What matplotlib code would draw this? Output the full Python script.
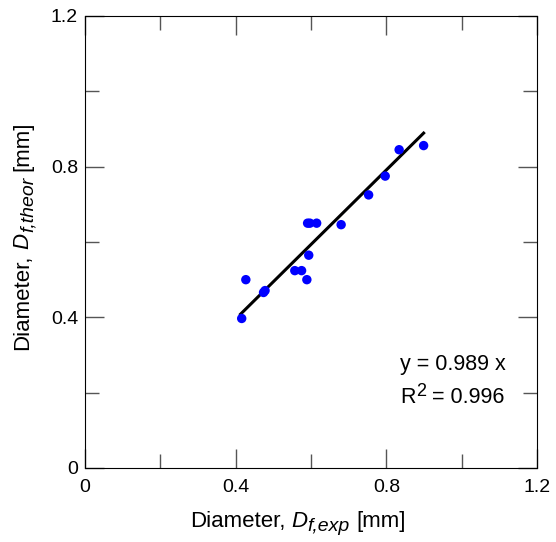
import matplotlib
matplotlib.use("Agg")
import matplotlib.pyplot as plt
from matplotlib.ticker import MultipleLocator

plt.rcParams["font.family"] = ["Liberation Sans", "DejaVu Sans"]

# experimental vs theoretical diameters [mm]
d_exp = [0.416, 0.427, 0.474, 0.478, 0.557, 0.575, 0.589, 0.594, 0.591, 0.597,
         0.615, 0.680, 0.753, 0.797, 0.834, 0.899]
d_theor = [0.397, 0.500, 0.466, 0.471, 0.524, 0.524, 0.500, 0.565, 0.650, 0.650,
           0.650, 0.646, 0.725, 0.775, 0.845, 0.856]
slope = 0.989
r2 = 0.996
fit_x = [0.413, 0.899]

fig = plt.figure(figsize=(5.56, 5.42), dpi=100)
ax = fig.add_axes([85/556, 74/542, 452/556, 452/542])

ax.plot(fit_x, [slope*v for v in fit_x], color="black", lw=2.2, zorder=2)
ax.scatter(d_exp, d_theor, s=46, color="#0000ff", edgecolors="none", zorder=3)

ax.set_xlim(0, 1.2)
ax.set_ylim(0, 1.2)
ax.xaxis.set_major_locator(MultipleLocator(0.4))
ax.yaxis.set_major_locator(MultipleLocator(0.4))
ax.xaxis.set_minor_locator(MultipleLocator(0.2))
ax.yaxis.set_minor_locator(MultipleLocator(0.2))
fmt = lambda v, p: "0" if abs(v) < 1e-9 else f"{v:.1f}"
ax.xaxis.set_major_formatter(fmt)
ax.yaxis.set_major_formatter(fmt)
ax.tick_params(which="both", direction="in", top=True, right=True,
               color="#555555", width=1, labelsize=14)
ax.tick_params(which="major", length=14)
ax.tick_params(which="minor", length=10)
ax.tick_params(axis="x", which="major", pad=8)
ax.tick_params(axis="y", which="major", pad=5)


def label(parts, x0, y0, rot):
    # chain text pieces: (text, style, size, shift)
    prev = None
    for txt, style, size, gap, shift in parts:
        if prev is None:
            prev = fig.text(x0, y0, txt, fontsize=size, style=style,
                            rotation=rot, ha="left" if rot == 0 else "right",
                            va="baseline" if rot == 0 else "bottom")
            continue
        if rot == 0:
            prev = ax.annotate(txt, xy=(1, 0), xycoords=prev, xytext=(gap, -shift),
                               textcoords="offset points", fontsize=size, style=style,
                               ha="left", va="bottom", annotation_clip=False)
        else:
            prev = ax.annotate(txt, xy=(1, 1), xycoords=prev, xytext=(shift, gap),
                               textcoords="offset points", fontsize=size, style=style,
                               rotation=90, ha="right", va="bottom", annotation_clip=False)


label([("Diameter,", "normal", 16, 0, 0),
       ("D", "italic", 16, 4.4, 0),
       ("f,exp", "italic", 14, 0, 2.5),
       ("[mm]", "normal", 16, 4.4, -2.5)], 190/556, 15/542, 0)
label([("Diameter,", "normal", 16, 0, 0),
       ("D", "italic", 16, 4.4, 0),
       ("f,theor", "italic", 14, 0, 2.5),
       ("[mm]", "normal", 16, 4.4, -2.5)], 33/556, 1 - 350/542, 90)

ax.text(0.836, 0.26, f"y = {slope} x", fontsize=15.5, va="baseline")
tr = ax.text(0.836, 0.172, "R", fontsize=15.5, va="baseline")
t2 = ax.annotate("2", xy=(1, 0), xycoords=tr, xytext=(0.5, 6), textcoords="offset points",
                 fontsize=13, ha="left", va="bottom")
ax.annotate(f"= {r2}", xy=(1, 0), xycoords=(t2, tr), xytext=(4.3, 0),
            textcoords="offset points", fontsize=15.5, ha="left", va="bottom")

fig.savefig("out.png", dpi=100)
